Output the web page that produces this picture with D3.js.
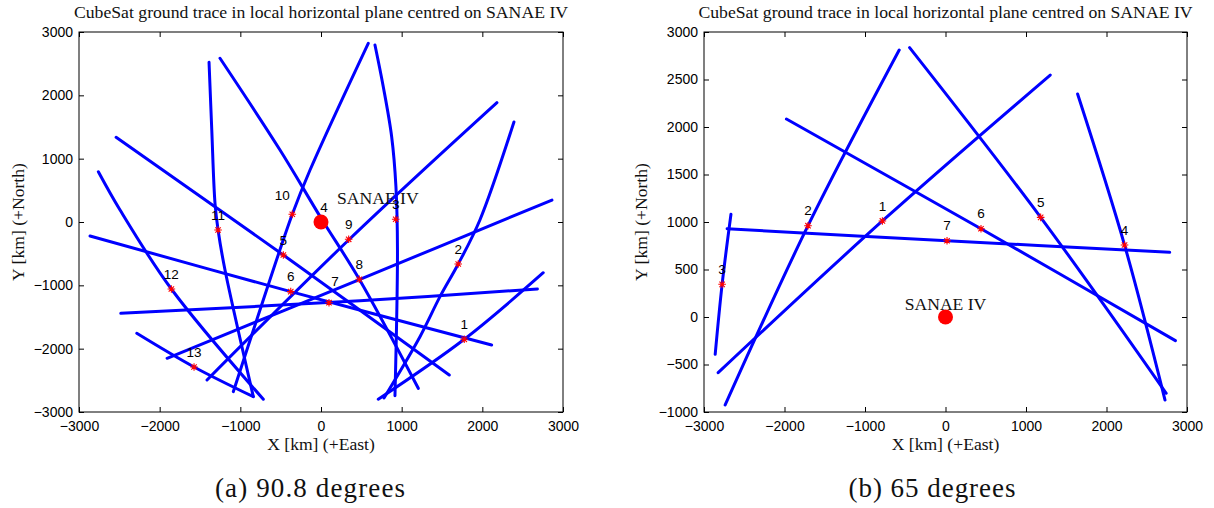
<!DOCTYPE html>
<html>
<head>
<meta charset="utf-8">
<script src="https://cdn.jsdelivr.net/npm/d3@7"></script>
<style>
  html, body { margin: 0; padding: 0; background: #fff; }
  svg { display: block; }
</style>
</head>
<body>
<svg id="chart" width="1214" height="508"></svg>
<script>
// Ground tracks, orbit inclination 90.8 deg: each pass is a list of [east km, north km]
const tracksA = [
  [[-1388, 2522], [-1354, 1453], [-1314, 295], [-1276, -126], [-1190, -758], [-839, -2756]],
  [[-1252, 2585], [-508, 1137], [0, 63], [475, -905], [1206, -2626]],
  [[586, 2822], [-136, 821], [-356, 122], [-797, -1547], [-1087, -2679]],
  [[669, 2795], [772, 2136], [876, 1347], [929, 557], [948, -442], [917, -2743]],
  [[2392, 1579], [1970, 32], [1701, -663], [1475, -1179], [1227, -1811], [781, -2779]],
  [[2755, -801], [1776, -1852], [710, -2799]],
  [[-2540, 1337], [-467, -521], [1590, -2416]],
  [[-2863, -221], [-375, -1100], [2115, -1942]],
  [[-2482, -1442], [483, -1243], [2683, -1058]],
  [[-1908, -2152], [483, -905], [2863, 347]],
  [[-1413, -2495], [352, -273], [2181, 1884]],
  [[-2760, 794], [-2491, 189], [-1855, -1058], [-715, -2799]],
  [[-2284, -1757], [-1574, -2289], [-839, -2758]]
];
// Numbered pass markers (pass 1 .. 13)
const marksA = [
  [1776, -1852], [1701, -663], [926, 43], [37, 0], [-467, -521], [-375, -1100], [99, -1274],
  [475, -905], [343, -273], [-356, 122], [-1276, -126], [-1855, -1058], [-1574, -2289]
];

// Ground tracks, orbit inclination 65 deg
const tracksB = [
  [[-2737, -926], [-1708, 961], [-575, 2810]],
  [[-2824, -586], [-784, 1011], [1301, 2547]],
  [[-446, 2835], [1182, 1049], [2742, -803]],
  [[-1976, 2084], [441, 929], [2856, -249]],
  [[1641, 2347], [2224, 758], [2727, -874]],
  [[-2713, 929], [19, 803], [2785, 681]],
  [[-2665, 1081], [-2775, 344], [-2861, -393]]
];
const marksB = [
  [-784, 1011], [-1708, 961], [-2775, 344], [2224, 758], [1182, 1049], [441, 929], [19, 803]
];

// Ground station at the origin of the local horizontal plane
const station = [0, 0];
const stationName = "SANAE IV";

const xTicks = [-3000, -2000, -1000, 0, 1000, 2000, 3000];
const yTicksA = [-3000, -2000, -1000, 0, 1000, 2000, 3000];
const yTicksB = [-1000, -500, 0, 500, 1000, 1500, 2000, 2500, 3000];

const titleText = "CubeSat ground trace in local horizontal plane centred on SANAE IV";
const xLabel = "X [km] (+East)";
const yLabel = "Y [km] (+North)";
const captions = ["(a) 90.8 degrees", "(b) 65 degrees"];

const SERIF = "'Liberation Serif', 'Times New Roman', serif";
const SANS = "'Liberation Sans', Arial, Helvetica, sans-serif";
const tickFmt = d3.format("d");

const svg = d3.select("#chart");
svg.append("rect").attr("width", 1214).attr("height", 508).attr("fill", "#fff");

const panels = [
  {
    box: { left: 79, right: 563, top: 32, bottom: 412 },
    yDomain: [-3000, 3000], yTicks: yTicksA,
    tracks: tracksA, marks: marksA,
    stationText: { dx: 16, dy: -18, anchor: "start" },
    labelNudge: { 7: [6, -6], 10: [-10, -4] },
    yLabelX: 23.5, caption: captions[0], captionX: 310, captionLen: 190
  },
  {
    box: { left: 704, right: 1187, top: 32, bottom: 412 },
    yDomain: [-1000, 3000], yTicks: yTicksB,
    tracks: tracksB, marks: marksB,
    stationText: { dx: 0, dy: -7, anchor: "middle" },
    labelNudge: {},
    yLabelX: 647, caption: captions[1], captionX: 932, captionLen: 167
  }
];

// MATLAB-style '*' marker: plus and cross overlaid
const star = "M-3.8,0H3.8M0,-3.8V3.8M-2.7,-2.7L2.7,2.7M-2.7,2.7L2.7,-2.7";

panels.forEach(p => {
  const b = p.box;
  const x = d3.scaleLinear().domain([-3000, 3000]).range([b.left, b.right]);
  const y = d3.scaleLinear().domain(p.yDomain).range([b.bottom, b.top]);
  const g = svg.append("g");

  // axes with inward ticks on all four sides
  const styleAxis = sel => {
    sel.select(".domain").remove();
    sel.selectAll(".tick line").attr("stroke", "#000").attr("stroke-width", 1);
    sel.selectAll(".tick text").attr("fill", "#000")
      .style("font-family", SANS).style("font-size", "14px");
  };
  g.append("g").attr("transform", `translate(0,${b.bottom})`)
    .call(d3.axisBottom(x).tickValues(xTicks).tickFormat(tickFmt)
      .tickSizeInner(-5).tickSizeOuter(0).tickPadding(9))
    .call(styleAxis);
  g.append("g").attr("transform", `translate(0,${b.top})`)
    .call(d3.axisTop(x).tickValues(xTicks).tickSizeInner(-5).tickSizeOuter(0).tickFormat(""))
    .call(styleAxis);
  g.append("g").attr("transform", `translate(${b.left},0)`)
    .call(d3.axisLeft(y).tickValues(p.yTicks).tickFormat(tickFmt)
      .tickSizeInner(-5).tickSizeOuter(0).tickPadding(6))
    .call(styleAxis);
  g.append("g").attr("transform", `translate(${b.right},0)`)
    .call(d3.axisRight(y).tickValues(p.yTicks).tickSizeInner(-5).tickSizeOuter(0).tickFormat(""))
    .call(styleAxis);

  g.append("rect")
    .attr("x", b.left).attr("y", b.top)
    .attr("width", b.right - b.left).attr("height", b.bottom - b.top)
    .attr("fill", "none").attr("stroke", "#000").attr("stroke-width", 1);

  // ground tracks
  const line = d3.line()
    .x(d => x(d[0])).y(d => y(d[1]))
    .curve(d3.curveCatmullRom.alpha(0.5));
  g.append("g").selectAll("path")
    .data(p.tracks).join("path")
    .attr("d", line)
    .attr("fill", "none")
    .attr("stroke", "#0000ff")
    .attr("stroke-width", 3)
    .attr("stroke-linecap", "round")
    .attr("stroke-linejoin", "round");

  // pass markers and their numbers
  g.append("g").selectAll("path")
    .data(p.marks).join("path")
    .attr("d", star)
    .attr("transform", d => `translate(${x(d[0])},${y(d[1])})`)
    .attr("fill", "none").attr("stroke", "#ff0000").attr("stroke-width", 1.1);

  g.append("g").selectAll("text")
    .data(p.marks).join("text")
    .attr("x", (d, i) => x(d[0]) + ((p.labelNudge[i + 1] || [0, 0])[0]))
    .attr("y", (d, i) => y(d[1]) - 10.4 + ((p.labelNudge[i + 1] || [0, 0])[1]))
    .attr("text-anchor", "middle")
    .style("font-family", SANS).style("font-size", "13.5px").attr("fill", "#000")
    .text((d, i) => i + 1);

  // ground station
  g.append("circle")
    .attr("cx", x(station[0])).attr("cy", y(station[1])).attr("r", 7.5)
    .attr("fill", "#ff0000");
  g.append("text")
    .attr("x", x(station[0]) + p.stationText.dx)
    .attr("y", y(station[1]) + p.stationText.dy)
    .attr("text-anchor", p.stationText.anchor)
    .style("font-family", SERIF).style("font-size", "17.6px").attr("fill", "#111")
    .text(stationName);

  // titles and axis labels
  const cx = (b.left + b.right) / 2;
  g.append("text")
    .attr("x", cx).attr("y", 18.3).attr("text-anchor", "middle")
    .style("font-family", SERIF).style("font-size", "17.7px").attr("fill", "#111")
    .text(titleText);
  g.append("text")
    .attr("x", cx).attr("y", 450).attr("text-anchor", "middle")
    .style("font-family", SERIF).style("font-size", "17.6px").attr("fill", "#111")
    .text(xLabel);
  g.append("text")
    .attr("transform", `translate(${p.yLabelX},${(b.top + b.bottom) / 2}) rotate(-90)`)
    .attr("text-anchor", "middle")
    .style("font-family", SERIF).style("font-size", "17.6px").attr("fill", "#111")
    .text(yLabel);

  // sub-figure caption
  svg.append("text")
    .attr("x", p.captionX).attr("y", 497).attr("text-anchor", "middle")
    .attr("textLength", p.captionLen).attr("lengthAdjust", "spacing")
    .style("font-family", SERIF).style("font-size", "27px").attr("fill", "#111")
    .text(p.caption);
});
</script>
</body>
</html>
